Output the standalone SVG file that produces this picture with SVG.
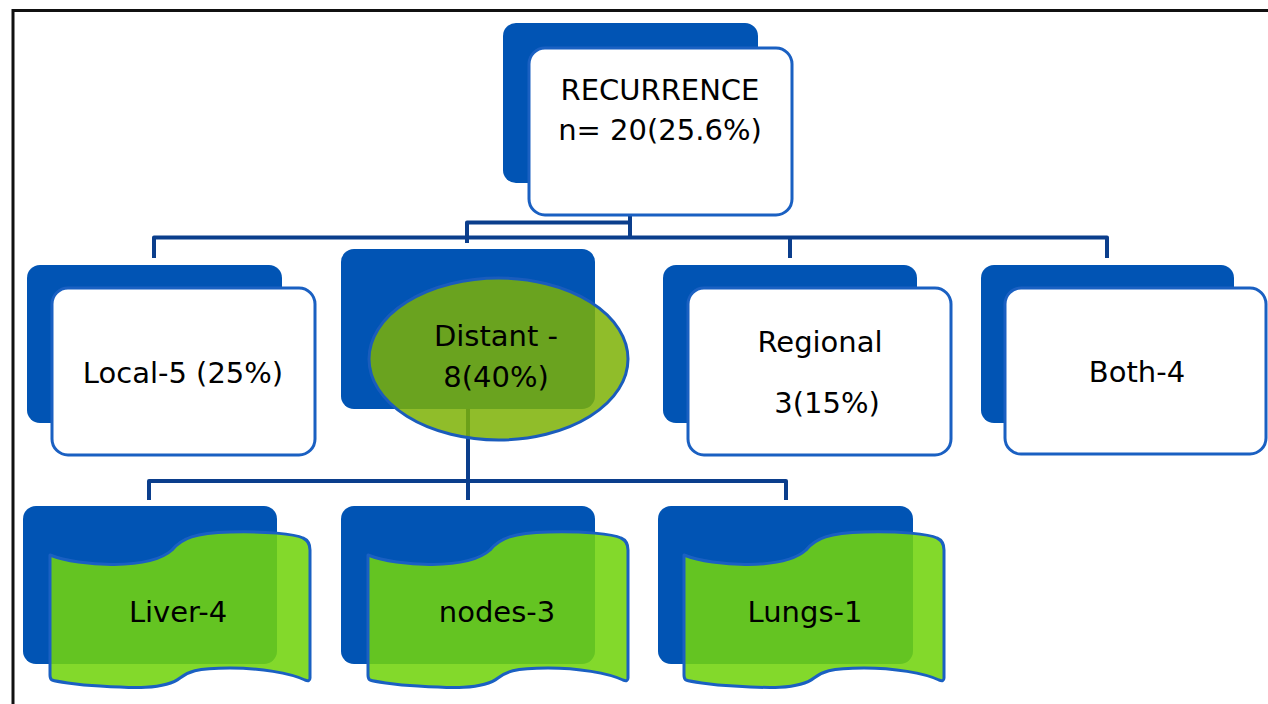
<svg xmlns="http://www.w3.org/2000/svg" width="1268" height="704" viewBox="0 0 1268 704">
<style>
.dark{fill:#0154b4;}
.card{fill:#ffffff;stroke:#1a60c2;stroke-width:3;}
.wave{fill:#72d40e;fill-opacity:0.88;stroke:#1a60c2;stroke-width:3;stroke-linejoin:round;}
.oval{fill:#7cb105;fill-opacity:0.85;stroke:#1a5cbc;stroke-width:3;}
.lbl{font-family:"DejaVu Sans",sans-serif;font-size:29px;fill:#000000;text-anchor:middle;}
.conn{fill:none;stroke:#0b3e8c;stroke-width:4;stroke-linejoin:round;}
</style>
<defs>
<path id="banner" d="M50,555 C80,567 150,570 172,550 C182,538 195,533 230,532 C265,531 295,534 303,538 Q310,541 310,550 L310,678 Q310,682 305,680 C290,673 260,668 230,668 C195,668 188,672 180,678 C165,690 130,688 100,686 C75,685 55,681 52,680 Q50,679 50,675 Z"/>
</defs>
<rect width="1268" height="704" fill="#ffffff"/>
<path d="M13,704 V10.5 H1268" fill="none" stroke="#111111" stroke-width="3"/>

<g id="connectors">
<path class="conn" d="M630,215 V238"/>
<path class="conn" d="M467,243 V222.5 H630"/>
<path class="conn" d="M154,258 V237.5 H1107 V258"/>
<path class="conn" d="M790,237.5 V258"/>
<path class="conn" d="M468,409 V500"/>
<path class="conn" d="M149,500 V481 H786 V500"/>
</g>

<g id="recurrence">
<rect class="dark" x="503" y="23" width="255" height="160" rx="13"/>
<rect class="card" x="529" y="48" width="263" height="167" rx="16"/>
<text class="lbl" x="660" y="100">RECURRENCE</text>
<text class="lbl" x="660" y="140">n= 20(25.6%)</text>
</g>

<g id="local">
<rect class="dark" x="27" y="265" width="255" height="158" rx="13"/>
<rect class="card" x="52" y="288" width="263" height="167" rx="16"/>
<text class="lbl" x="183" y="383">Local-5 (25%)</text>
</g>

<g id="distant">
<rect class="dark" x="341" y="249" width="254" height="160" rx="13"/>
<ellipse class="oval" cx="498.5" cy="359" rx="129.5" ry="81"/>
<text class="lbl" x="496" y="346">Distant -</text>
<text class="lbl" x="496" y="387">8(40%)</text>
</g>

<g id="regional">
<rect class="dark" x="663" y="265" width="254" height="158" rx="13"/>
<rect class="card" x="688" y="288" width="263" height="167" rx="16"/>
<text class="lbl" x="820" y="352">Regional</text>
<text class="lbl" x="827" y="413">3(15%)</text>
</g>

<g id="both">
<rect class="dark" x="981" y="265" width="253" height="158" rx="13"/>
<rect class="card" x="1005" y="288" width="261" height="166" rx="16"/>
<text class="lbl" x="1137" y="382">Both-4</text>
</g>

<g id="liver">
<rect class="dark" x="23" y="506" width="254" height="158" rx="13"/>
<use href="#banner" class="wave"/>
<text class="lbl" x="178" y="622">Liver-4</text>
</g>

<g id="nodes">
<rect class="dark" x="341" y="506" width="254" height="158" rx="13"/>
<use href="#banner" class="wave" transform="translate(318,0)"/>
<text class="lbl" x="497" y="622">nodes-3</text>
</g>

<g id="lungs">
<rect class="dark" x="658" y="506" width="255" height="158" rx="13"/>
<use href="#banner" class="wave" transform="translate(634,0)"/>
<text class="lbl" x="805" y="622">Lungs-1</text>
</g>
</svg>
